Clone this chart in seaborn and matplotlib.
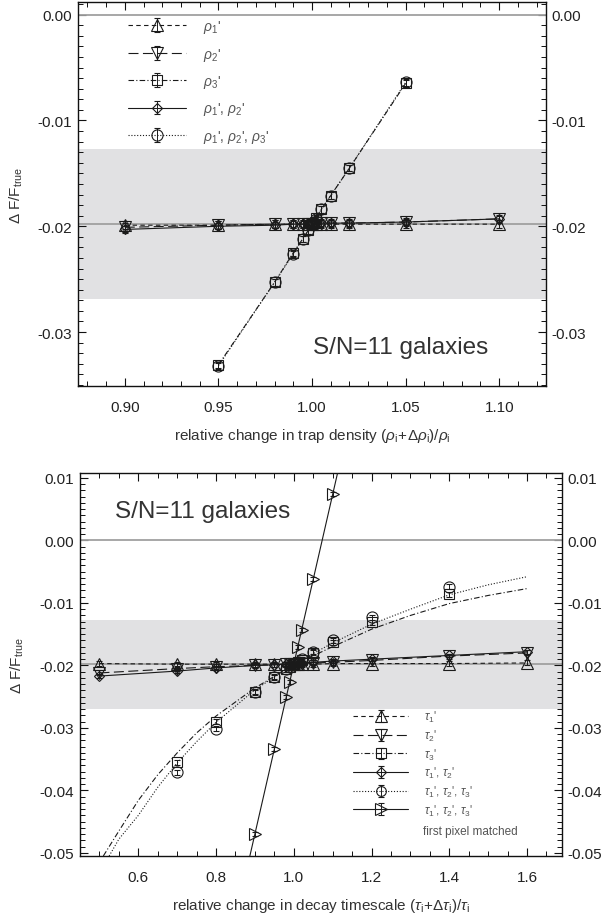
import numpy as np
import pandas as pd
import matplotlib
matplotlib.use("Agg")
import matplotlib.pyplot as plt
from matplotlib.ticker import MultipleLocator, FormatStrFormatter, FuncFormatter
import seaborn as sns

# ---------------- data: top panel (trap density) ----------------
x_top = [0.90, 0.95, 0.98, 0.99, 0.995, 0.998, 1.00, 1.002, 1.005, 1.01, 1.02, 1.05, 1.10]
rho1 = [-0.0199, -0.0199, -0.0198, -0.0198, -0.0198, -0.0198, -0.0198, -0.0198, -0.0198, -0.0198, -0.0198, -0.0198, -0.0198]
rho2 = [-0.0201, -0.0199, -0.0198, -0.0198, -0.0198, -0.0198, -0.0198, -0.0197, -0.0197, -0.0197, -0.0197, -0.0196, -0.0193]
rho12 = [-0.0203, -0.0200, -0.0199, -0.0198, -0.0198, -0.0198, -0.0198, -0.0197, -0.0197, -0.0197, -0.0197, -0.0196, -0.0193]
x_rho3 = [0.95, 0.98, 0.99, 0.995, 0.998, 1.00, 1.002, 1.005, 1.01, 1.02, 1.05]
rho3 = [-0.0331, -0.0253, -0.0225, -0.0212, -0.0204, -0.0198, -0.0192, -0.0184, -0.0171, -0.0145, -0.0065]
rho123 = [-0.0332, -0.0253, -0.0226, -0.0212, -0.0204, -0.0198, -0.0193, -0.0184, -0.0171, -0.0145, -0.0064]

# ---------------- data: bottom panel (decay timescale) ----------------
x_tau = [0.5, 0.7, 0.8, 0.9, 0.95, 0.98, 0.99, 1.0, 1.01, 1.02, 1.05, 1.1, 1.2, 1.4, 1.6]
tau1 = [-0.0197, -0.0198, -0.0198, -0.0198, -0.0198, -0.0198, -0.0198, -0.0198, -0.0198, -0.0198, -0.0198, -0.0197, -0.0197, -0.0197, -0.0196]
tau2 = [-0.0212, -0.0205, -0.0202, -0.0200, -0.0199, -0.0198, -0.0198, -0.0198, -0.0197, -0.0197, -0.0196, -0.0195, -0.0192, -0.0185, -0.0180]
tau12 = [-0.0217, -0.0209, -0.0204, -0.0200, -0.0199, -0.0198, -0.0198, -0.0197, -0.0197, -0.0196, -0.0195, -0.0193, -0.0190, -0.0184, -0.0178]
x_tau3 = [0.7, 0.8, 0.9, 0.95, 0.98, 0.99, 1.0, 1.01, 1.02, 1.05, 1.1, 1.2, 1.4]
tau3 = [-0.0355, -0.0290, -0.0242, -0.0218, -0.0206, -0.0202, -0.0198, -0.0194, -0.0191, -0.0180, -0.0163, -0.0131, -0.0086]
tau123 = [-0.0371, -0.0301, -0.0243, -0.0219, -0.0206, -0.0202, -0.0198, -0.0194, -0.0190, -0.0178, -0.0160, -0.0123, -0.0074]
# fitted curves
x_fit3 = [0.51, 0.55, 0.6, 0.65, 0.7, 0.75, 0.8, 0.9, 1.0, 1.1, 1.2, 1.3, 1.4, 1.5, 1.6]
fit_tau3 = [-0.0505, -0.0465, -0.0416, -0.0375, -0.0340, -0.0308, -0.0281, -0.0236, -0.0199, -0.0170, -0.0142, -0.0120, -0.0101, -0.0088, -0.0077]
x_fit123 = [0.525, 0.55, 0.6, 0.65, 0.7, 0.75, 0.8, 0.9, 1.0, 1.1, 1.2, 1.3, 1.4, 1.5, 1.6]
fit_tau123 = [-0.0505, -0.0478, -0.0440, -0.0395, -0.0356, -0.0322, -0.0291, -0.0239, -0.0198, -0.0164, -0.0134, -0.0110, -0.0087, -0.0071, -0.0058]
# first pixel matched
x_fp = [0.90, 0.95, 0.98, 0.99, 1.00, 1.01, 1.02, 1.05, 1.10]
fp = [-0.0470, -0.0334, -0.0251, -0.0226, -0.0199, -0.0170, -0.0143, -0.0062, 0.0074]
x_fp_fit = [0.88, 1.12]
fp_fit = [-0.0524, 0.0128]

band = (-0.0269, -0.0127)
ref_level = -0.0198

# ---------------- style ----------------
sns.set_theme(style="ticks")
plt.rcParams['font.family'] = ['Liberation Sans', 'DejaVu Sans']
plt.rcParams['mathtext.fontset'] = 'custom'
plt.rcParams['mathtext.rm'] = 'Liberation Sans'
plt.rcParams['mathtext.it'] = 'Liberation Sans:italic'
plt.rcParams['mathtext.bf'] = 'Liberation Sans:bold'
plt.rcParams['axes.linewidth'] = 1.0
plt.rcParams['axes.edgecolor'] = '#111111'
plt.rcParams['text.color'] = '#222222'

fig = plt.figure(figsize=(6.05, 9.2), dpi=100)
ax1 = fig.add_axes([78/605, 1-387/920, 468/605, 384/920])
ax2 = fig.add_axes([80/605, 1-857/920, 482/605, 383/920])

EC = '#1a1a1a'
LW = 0.8

def series(ax, x, y, marker, ls, ms, yerr, line=True):
    df = pd.DataFrame({"x": x, "y": y})
    if line:
        sns.lineplot(data=df, x="x", y="y", ax=ax, color=EC, lw=LW,
                     linestyle=ls, legend=False, sort=True, zorder=3)
    ax.errorbar(x, y, yerr=yerr, fmt=marker, ms=ms, mfc='none', mec=EC,
                mew=0.8, ecolor=EC, elinewidth=0.7, capsize=2.5, capthick=0.7,
                zorder=4)

def proxy(ax, marker, ls, ms, label):
    return ax.errorbar([np.nan], [np.nan], yerr=[0.0004], fmt=marker, ls=ls,
                       lw=LW, color=EC, ms=ms, mfc='none', mec=EC, mew=0.8,
                       elinewidth=0.7, capsize=2.5, capthick=0.7, label=label)

def yfmt(v, pos):
    if abs(v) < 1e-9:
        v = 0.0
    return f"{v:.2f}"

LS_SHORT = (0, (4, 3))
LS_LONG = (0, (9, 4))
LS_DD = (0, (5, 2, 1, 2))
LS_DOT = (0, (1, 1.6))

# ---------------- top panel ----------------
ax = ax1
ax.axhspan(*band, color='#e1e1e3', zorder=0, lw=0)
ax.axhline(0.0, color='#a0a0a0', lw=1.3, zorder=1)
ax.axhline(ref_level, color='#a0a0a0', lw=1.3, zorder=1)
series(ax, x_top, rho1, '^', LS_SHORT, 9, 0.0004)
series(ax, x_top, rho2, 'v', LS_LONG, 9, 0.0004)
series(ax, x_rho3, rho3, 's', LS_DD, 7.5, 0.0003)
series(ax, x_top, rho12, 'D', '-', 5.5, 0.0003)
series(ax, x_rho3, rho123, 'o', LS_DOT, 8, 0.0003)

hs = [proxy(ax, '^', LS_SHORT, 9, r"$\rho_1$'"),
      proxy(ax, 'v', LS_LONG, 9, r"$\rho_2$'"),
      proxy(ax, 's', LS_DD, 7.5, r"$\rho_3$'"),
      proxy(ax, 'D', '-', 5.5, r"$\rho_1$', $\rho_2$'"),
      proxy(ax, 'o', LS_DOT, 8, r"$\rho_1$', $\rho_2$', $\rho_3$'")]
ax.legend(handles=hs, loc='upper left', bbox_to_anchor=(0.107, 0.958),
          frameon=False, fontsize=10, handlelength=4.2, handletextpad=1.2,
          labelspacing=0.75, borderpad=0, borderaxespad=0, numpoints=1,
          labelcolor='#555555')

ax.set_xlim(0.875, 1.125)
ax.set_ylim(-0.0351, 0.0012)
ax.xaxis.set_major_locator(MultipleLocator(0.05))
ax.xaxis.set_minor_locator(MultipleLocator(0.01))
ax.yaxis.set_major_locator(MultipleLocator(0.01))
ax.yaxis.set_minor_locator(MultipleLocator(0.001))
ax.xaxis.set_major_formatter(FormatStrFormatter('%.2f'))
ax.text(0.502, 0.102, "S/N=11 galaxies", transform=ax.transAxes,
        fontsize=17.5, color='#333333', va='center', ha='left')
ax.set_xlabel(r"relative change in trap density $(\rho_\mathrm{i}\!+\!\Delta\rho_\mathrm{i})/\rho_\mathrm{i}$",
              fontsize=11, color='#333333')
ax.xaxis.set_label_coords(0.5, -0.105)

# ---------------- bottom panel ----------------
ax = ax2
ax.axhspan(*band, color='#e1e1e3', zorder=0, lw=0)
ax.axhline(0.0, color='#a0a0a0', lw=1.3, zorder=1)
ax.axhline(ref_level, color='#a0a0a0', lw=1.3, zorder=1)
series(ax, x_tau, tau1, '^', LS_SHORT, 9, 0.0004)
series(ax, x_tau, tau2, 'v', LS_LONG, 9, 0.0004)
series(ax, x_tau3, tau3, 's', LS_DD, 7.5, 0.0004, line=False)
series(ax, x_tau, tau12, 'D', '-', 5.5, 0.0003)
series(ax, x_tau3, tau123, 'o', LS_DOT, 8, 0.0004, line=False)
sns.lineplot(x=x_fit3, y=fit_tau3, ax=ax, color=EC, lw=LW, linestyle=LS_DD, legend=False, zorder=3)
sns.lineplot(x=x_fit123, y=fit_tau123, ax=ax, color=EC, lw=LW, linestyle=LS_DOT, legend=False, zorder=3)
series(ax, x_fp, fp, '>', '-', 9, 0.0003, line=False)
sns.lineplot(x=x_fp_fit, y=fp_fit, ax=ax, color=EC, lw=LW, linestyle='-', legend=False, zorder=3)

hs = [proxy(ax, '^', LS_SHORT, 8, r"$\tau_1$'"),
      proxy(ax, 'v', LS_LONG, 8, r"$\tau_2$'"),
      proxy(ax, 's', LS_DD, 7, r"$\tau_3$'"),
      proxy(ax, 'D', '-', 5, r"$\tau_1$', $\tau_2$'"),
      proxy(ax, 'o', LS_DOT, 7, r"$\tau_1$', $\tau_2$', $\tau_3$'"),
      proxy(ax, '>', '-', 8, r"$\tau_1$', $\tau_2$', $\tau_3$'")]
ax.legend(handles=hs, loc='upper left', bbox_to_anchor=(0.566, 0.383),
          frameon=False, fontsize=8.5, handlelength=4.7, handletextpad=1.3,
          labelspacing=0.3, borderpad=0, borderaxespad=0, numpoints=1,
          labelcolor='#555555')
ax.text(0.712, 0.065, "first pixel matched", transform=ax.transAxes,
        fontsize=8.5, color='#555555', va='center', ha='left')

ax.set_xlim(0.45, 1.69)
ax.set_ylim(-0.0505, 0.0108)
ax.xaxis.set_major_locator(MultipleLocator(0.2))
ax.xaxis.set_minor_locator(MultipleLocator(0.05))
ax.yaxis.set_major_locator(MultipleLocator(0.01))
ax.yaxis.set_minor_locator(MultipleLocator(0.001))
ax.xaxis.set_major_formatter(FormatStrFormatter('%.1f'))
ax.text(0.073, 0.901, "S/N=11 galaxies", transform=ax.transAxes,
        fontsize=17.5, color='#333333', va='center', ha='left')
ax.set_xlabel(r"relative change in decay timescale $(\tau_\mathrm{i}\!+\!\Delta\tau_\mathrm{i})/\tau_\mathrm{i}$",
              fontsize=11, color='#333333')
ax.xaxis.set_label_coords(0.5, -0.105)

for ax in (ax1, ax2):
    ax.yaxis.set_major_formatter(FuncFormatter(yfmt))
    ax.set_ylabel(r"$\Delta$ F/F$_\mathrm{true}$", fontsize=11, color='#333333')
    ax.yaxis.set_label_coords(-0.113, 0.5)
    ax.tick_params(which='both', direction='in', top=True, right=True,
                   labelright=True, color='#111111', labelsize=11,
                   labelcolor='#222222')
    ax.tick_params(which='major', length=6, width=0.8)
    ax.tick_params(which='minor', length=3.5, width=0.7)
    ax.tick_params(axis='x', which='both', pad=10)
    ax.tick_params(axis='y', which='both', pad=4)
    ax.set_facecolor('white')
    for s in ax.spines.values():
        s.set_visible(True)

fig.savefig("out.png", dpi=100)
